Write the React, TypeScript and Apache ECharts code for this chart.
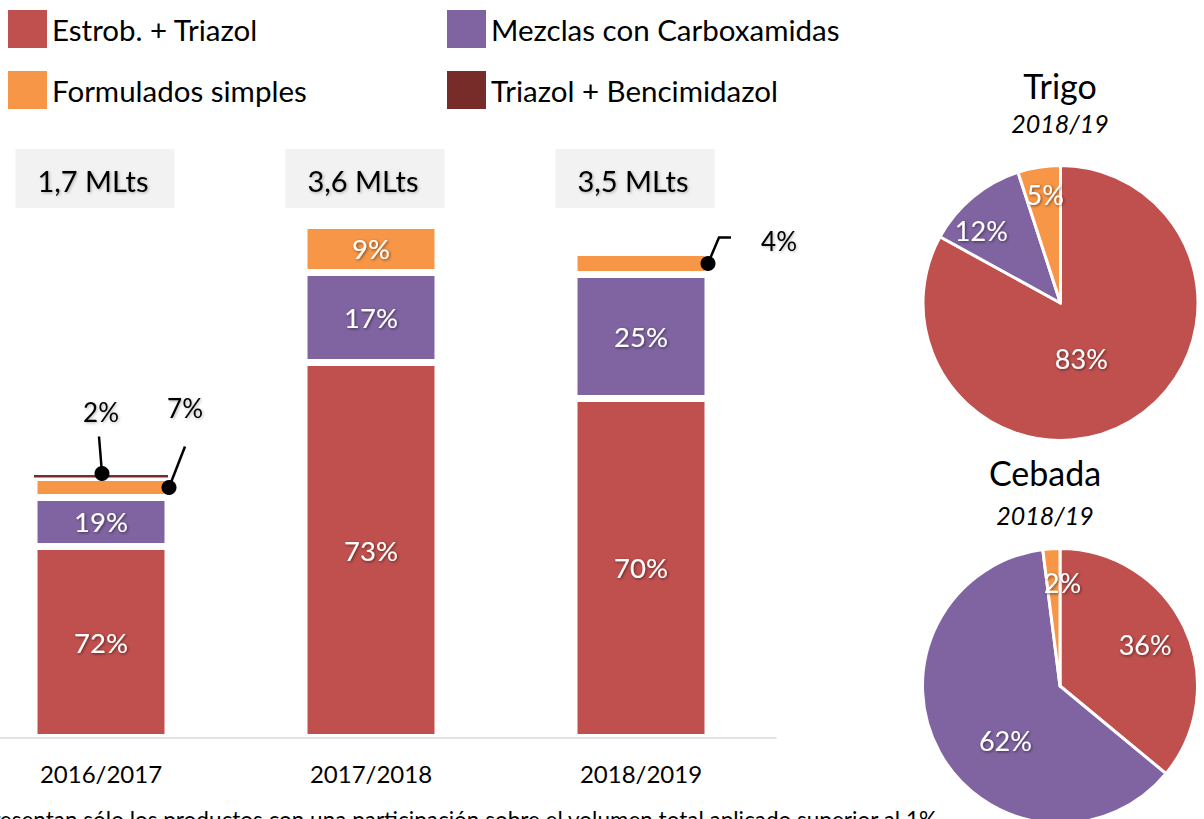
import React, { useEffect, useRef } from "react";
import * as echarts from "echarts";

// ---------- data ----------
const campaigns = ["2016/2017", "2017/2018", "2018/2019"];
const volumeLabels = ["1,7 MLts", "3,6 MLts", "3,5 MLts"];

// segment volumes (MLts)
const estrobTriazol = [1.343, 2.637, 2.384];
const mezclasCarboxamidas = [0.345, 0.633, 0.872];
const formuladosSimples = [0.14, 0.331, 0.155];
const triazolBencimidazol = [0.018, null, null];

// share labels printed on the chart (%)
const pctEstrob = [72, 73, 70];
const pctMezclas = [19, 17, 25];
const pctFormulados = [7, 9, 4];
const pctTriazolBenc = [2, null, null];

const seriesNames = [
  "Estrob. + Triazol",
  "Mezclas con Carboxamidas",
  "Formulados simples",
  "Triazol + Bencimidazol",
];

const pieNames = ["Estrob. + Triazol", "Mezclas con Carboxamidas", "Formulados simples"];
const trigoValues = [83, 12, 5];
const cebadaValues = [36, 62, 2];

const footnote =
  "Se representan sólo los productos con una participación sobre el volumen total aplicado superior al 1%";

// ---------- style ----------
const RED = "#C0504D";
const PURPLE = "#8064A2";
const ORANGE = "#F79646";
const DARK = "#772C2A";
const COLORS = [RED, PURPLE, ORANGE, DARK];
const FONT = "Lato, 'Open Sans', sans-serif";
const BAR_W = 134;
const INSIDE_MIN = 0.18;
// the chart canvas starts 34px left of the page so the first category band can begin off-page
const OX = 34;
const CHART_W = 1204 + OX;
const whiteShadow = {
  textShadowColor: "rgba(0,0,0,0.55)",
  textShadowBlur: 3,
  textShadowOffsetX: 1,
  textShadowOffsetY: 1,
};
const blackShadow = {
  textShadowColor: "rgba(0,0,0,0.3)",
  textShadowBlur: 3,
  textShadowOffsetX: 1,
  textShadowOffsetY: 1,
};

const stacks = [estrobTriazol, mezclasCarboxamidas, formuladosSimples, triazolBencimidazol];
const pcts = [pctEstrob, pctMezclas, pctFormulados, pctTriazolBenc];

// pie label placement: fraction of radius and angular nudge from slice bisector
const trigoLabelFrac = [0.43, 0.78, 0.8];
const trigoLabelNudge = [-10, 8, -1];
const cebadaLabelFrac = [0.69, 0.56, 0.75];
const cebadaLabelNudge = [1, 16, -5];

const TRIGO_C = [1060.5 + OX, 303];
const CEBADA_C = [1060 + OX, 686];
const PIE_R = 137.5;

function pieLabelLayout(values: number[], center: number[], frac: number[], nudge: number[]) {
  const total = values.reduce((a, b) => a + b, 0);
  return (p: any) => {
    const i = p.dataIndex;
    let cum = 0;
    for (let k = 0; k < i; k++) cum += values[k];
    const midDeg = 90 - (360 * (cum + values[i] / 2)) / total + nudge[i];
    const rad = (midDeg * Math.PI) / 180;
    return {
      x: center[0] + frac[i] * PIE_R * Math.cos(rad),
      y: center[1] - frac[i] * PIE_R * Math.sin(rad),
      align: "center",
      verticalAlign: "middle",
    };
  };
}

function barSeries(idx: number) {
  const values = stacks[idx];
  const pc = pcts[idx];
  return {
    type: "bar",
    name: seriesNames[idx],
    stack: "total",
    barWidth: BAR_W,
    silent: true,
    itemStyle: {
      color: COLORS[idx],
      borderColor: "#ffffff",
      borderWidth: idx === 3 ? 0 : 3.5,
    },
    label: {
      show: true,
      position: "inside",
      color: "#ffffff",
      fontFamily: FONT,
      fontSize: 27.5,
      ...whiteShadow,
      formatter: (p: any) => (pc[p.dataIndex] != null ? pc[p.dataIndex] + "%" : ""),
    },
    data: values.map((v) => ({
      value: v == null ? "-" : v,
      label: { show: v != null && v >= INSIDE_MIN },
    })),
  };
}

function pieSeries(values: number[], center: number[], frac: number[], nudge: number[]) {
  return {
    type: "pie",
    center,
    radius: PIE_R,
    startAngle: 90,
    clockwise: true,
    silent: true,
    avoidLabelOverlap: false,
    itemStyle: { borderColor: "#ffffff", borderWidth: 3 },
    label: {
      show: true,
      position: "inside",
      formatter: "{c}%",
      color: "#ffffff",
      fontFamily: FONT,
      fontSize: 27,
      ...whiteShadow,
    },
    labelLine: { show: false },
    labelLayout: pieLabelLayout(values, center, frac, nudge),
    data: pieNames.map((n, i) => ({ name: n, value: values[i], itemStyle: { color: COLORS[i] } })),
  };
}

const legendCommon = {
  orient: "vertical",
  top: 10,
  padding: 0,
  itemWidth: 39,
  itemHeight: 38,
  itemGap: 23,
  icon: "rect",
  selectedMode: false,
  itemStyle: { borderWidth: 0 },
  textStyle: { fontFamily: FONT, fontSize: 29.5, color: "#000000" },
};

export default function App() {
  const ref = useRef<HTMLDivElement>(null);

  useEffect(() => {
    if (!ref.current) return;
    const chart = echarts.init(ref.current, undefined, { renderer: "svg" });
    chart.setOption({
      animation: false,
      backgroundColor: "#ffffff",
      legend: [
        { ...legendCommon, left: 8 + OX, data: [seriesNames[0], seriesNames[2]] },
        { ...legendCommon, left: 447 + OX, data: [seriesNames[1], seriesNames[3]] },
      ],
      grid: { left: 0, width: 810, top: 168.7, bottom: 81.5, containLabel: false },
      xAxis: {
        type: "category",
        data: campaigns,
        z: 10,
        axisLine: { show: true, lineStyle: { color: "#D9D9D9", width: 1.5 } },
        axisTick: { show: false },
        axisLabel: { color: "#000000", fontFamily: FONT, fontSize: 24, margin: 24 },
      },
      yAxis: {
        type: "value",
        min: 0,
        max: 4,
        show: false,
        splitLine: { show: false },
      },
      series: [
        barSeries(0),
        barSeries(1),
        barSeries(2),
        barSeries(3),
        pieSeries(trigoValues, TRIGO_C, trigoLabelFrac, trigoLabelNudge),
        pieSeries(cebadaValues, CEBADA_C, cebadaLabelFrac, cebadaLabelNudge),
      ],
    });

    // annotations derived from the data through the chart's own scales
    const px = (cat: number, v: number) =>
      chart.convertToPixel({ gridIndex: 0 }, [cat, v]) as number[];
    const cumAt = (sIdx: number, cat: number) => {
      let s = 0;
      for (let k = 0; k < sIdx; k++) s += stacks[k][cat] || 0;
      return s;
    };

    const graphics: any[] = [];

    // volume boxes
    campaigns.forEach((_, i) => {
      const [cx] = px(i, 0);
      const bx = cx - 6;
      graphics.push({
        type: "rect",
        shape: { x: bx - 79.5, y: 149, width: 159, height: 59 },
        style: { fill: "#F2F2F2" },
        silent: true,
      });
      graphics.push({
        type: "text",
        x: bx - 2,
        y: 180,
        silent: true,
        style: {
          text: volumeLabels[i],
          fontFamily: FONT,
          fontSize: 29,
          fill: "#000000",
          align: "center",
          verticalAlign: "middle",
          ...blackShadow,
        },
      });
    });

    // callouts for thin segments
    const callouts = [
      { s: 3, cat: 0, kind: "top" },
      { s: 2, cat: 0, kind: "right" },
      { s: 2, cat: 2, kind: "elbow" },
    ];
    callouts.forEach((c) => {
      const base = cumAt(c.s, c.cat);
      const v = stacks[c.s][c.cat] as number;
      const [cx] = px(c.cat, 0);
      let dot: number[];
      let pts: number[][];
      let tp: number[];
      if (c.kind === "top") {
        const y = px(c.cat, base + v)[1];
        dot = [cx + 1, y - 1.5];
        pts = [dot, [dot[0] - 3, dot[1] - 37]];
        tp = [dot[0] - 1, dot[1] - 61];
      } else if (c.kind === "right") {
        const y = px(c.cat, base + v / 2)[1];
        dot = [cx + BAR_W / 2 + 1, y];
        pts = [dot, [dot[0] + 16, dot[1] - 41]];
        tp = [dot[0] + 16, dot[1] - 80];
      } else {
        const y = px(c.cat, base + v / 2)[1];
        dot = [cx + BAR_W / 2, y];
        pts = [dot, [dot[0] + 11, dot[1] - 26], [dot[0] + 23, dot[1] - 26]];
        tp = [dot[0] + 71, dot[1] - 22];
      }
      graphics.push({
        type: "polyline",
        silent: true,
        z: 20,
        shape: { points: pts },
        style: { stroke: "#000000", lineWidth: 2.5, fill: null },
      });
      graphics.push({
        type: "circle",
        silent: true,
        z: 21,
        shape: { cx: dot[0], cy: dot[1], r: 7.5 },
        style: { fill: "#000000" },
      });
      graphics.push({
        type: "text",
        silent: true,
        z: 21,
        x: tp[0],
        y: tp[1],
        style: {
          text: pcts[c.s][c.cat] + "%",
          fontFamily: FONT,
          fontSize: 26,
          fill: "#000000",
          align: "center",
          verticalAlign: "middle",
          ...blackShadow,
        },
      });
    });

    // pie titles
    const titles = [
      { t: "Trigo", sub: "2018/19", x: 1060 + OX, y: 85, sy: 123 },
      { t: "Cebada", sub: "2018/19", x: 1045 + OX, y: 472, sy: 515 },
    ];
    titles.forEach((t) => {
      graphics.push({
        type: "text",
        x: t.x,
        y: t.y,
        silent: true,
        style: {
          text: t.t,
          fontFamily: FONT,
          fontSize: 34,
          fill: "#000000",
          align: "center",
          verticalAlign: "middle",
        },
      });
      graphics.push({
        type: "text",
        x: t.x,
        y: t.sy,
        silent: true,
        style: {
          text: t.sub,
          fontFamily: FONT,
          fontSize: 25,
          fontStyle: "italic",
          fill: "#000000",
          align: "center",
          verticalAlign: "middle",
        },
      });
    });

    // footnote (runs off the page on the left and bottom, as in the reference)
    graphics.push({
      type: "text",
      x: 937 + OX,
      y: 819,
      silent: true,
      style: {
        text: footnote,
        fontFamily: FONT,
        fontSize: 22.5,
        fill: "#000000",
        align: "right",
        verticalAlign: "middle",
      },
    });

    chart.setOption({ graphic: graphics });

    return () => chart.dispose();
  }, []);

  return (
    <div
      ref={ref}
      style={{ position: "absolute", left: -OX, top: 0, width: CHART_W, height: 819 }}
    />
  );
}
